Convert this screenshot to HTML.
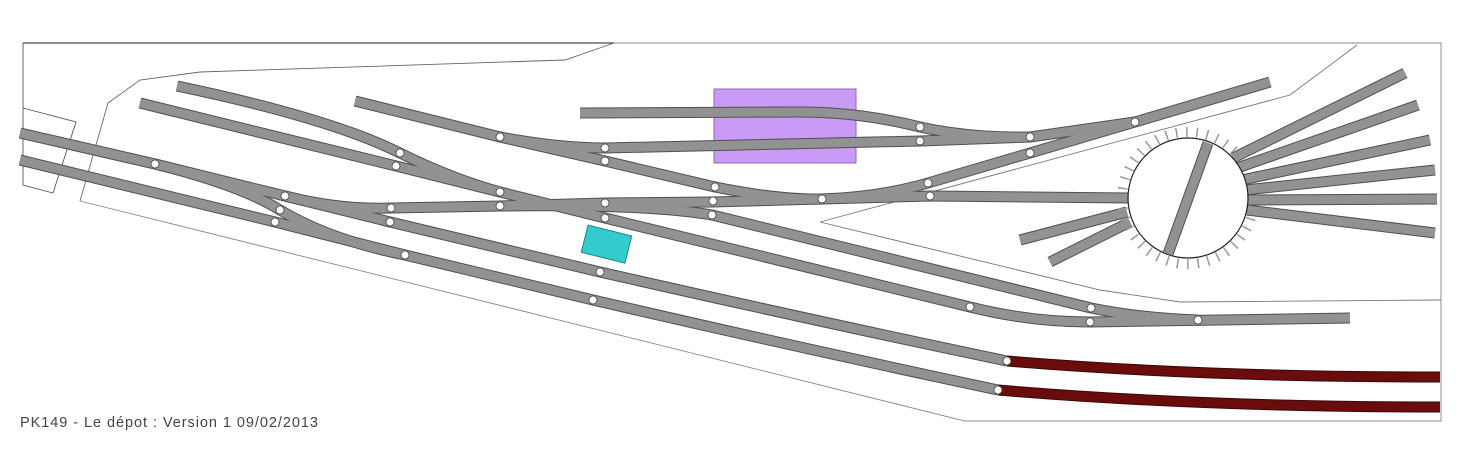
<!DOCTYPE html>
<html><head><meta charset="utf-8"><style>
html,body{margin:0;padding:0;background:#fff;width:1461px;height:466px;overflow:hidden}
</style></head><body>
<svg width="1461" height="466" viewBox="0 0 1461 466" xmlns="http://www.w3.org/2000/svg">
<defs>
<g id="tr">
<path d="M20,133 L155,164 L285,196 L390,222 L600,272 Q820,322 1007,361"/>
<path d="M20,160 L275,222 L405,255 L593,300 Q800,348 998,390"/>
<path d="M155,164 Q240,185 280,210 Q330,240 405,255"/>
<path d="M140,103 L396,166 L500,192 L605,218 L970,307 Q1030,322 1090,322 L1350,318"/>
<path d="M177,86 Q330,118 400,153 Q450,178 500,192"/>
<path d="M285,196 Q340,210 391,208 L500,206 L605,203 L712,202 L822,199 L930,196 L1130,198"/>
<path d="M500,206 Q650,204 712,215 L1091,308 Q1140,318 1198,320"/>
<path d="M355,101 L500,137 L605,161 L715,187 Q780,200 822,199 Q880,197 928,183 L1030,153 L1135,122 L1270,82"/>
<path d="M500,137 Q560,148 605,148 L920,141 L1030,137 L1135,122"/>
<path d="M580,113 L800,112 Q860,112 920,127 Q970,138 1030,137"/>
<path d="M1233,158 L1405,73"/><path d="M1237,168 L1418,105"/><path d="M1242,180 L1430,140"/>
<path d="M1245,190 L1435,170"/><path d="M1247,200 L1437,199"/><path d="M1247,210 L1435,233"/>
<path d="M1020,240 L1127,212"/><path d="M1050,262 L1130,222"/>
</g>
</defs>
<g fill="none" stroke-width="0.9">
<path d="M23,43 L614,43" stroke="#222"/>
<path d="M614,43 L1441,43 L1441,421 L965,421 L80,201" stroke="#888"/>
<path d="M23,43 L23,185 L53,193 L76,122 L23,108" stroke="#555"/>
<path d="M614,43 L565,60 L200,72 L140,80 L108,103 L80,201" stroke="#666"/>
<path d="M1357,45 L1290,95 L820,222 L1100,290 L1180,302 L1441,300" stroke="#777"/>
</g>
<rect x="714" y="89" width="142" height="74" fill="#c99bf7" stroke="#8a6aa8" stroke-width="1"/>
<rect x="584" y="230" width="45" height="28" fill="#33cccc" stroke="#1a8888" stroke-width="1" transform="rotate(14 606 244)"/>
<g fill="none" stroke-linejoin="round">
<use href="#tr" stroke="#505050" stroke-width="11"/>
<use href="#tr" stroke="#929292" stroke-width="9"/>
<path d="M1007,361 Q1200,377 1440,377" stroke="#3a0606" stroke-width="11"/>
<path d="M1007,361 Q1200,377 1440,377" stroke="#6b0c0c" stroke-width="9"/>
<path d="M998,390 Q1200,407 1440,407" stroke="#3a0606" stroke-width="11"/>
<path d="M998,390 Q1200,407 1440,407" stroke="#6b0c0c" stroke-width="9"/>
</g>
<circle cx="1188" cy="198" r="66" fill="none" stroke="#999" stroke-width="10" stroke-dasharray="1.5 8.8"/>
<circle cx="1188" cy="198" r="60" fill="#fff" stroke="#222" stroke-width="1.2"/>
<path d="M1208,143 L1168,254" stroke="#505050" stroke-width="11"/>
<path d="M1208,143 L1168,254" stroke="#929292" stroke-width="9"/>
<g fill="#fff" stroke="#444" stroke-width="0.8">
<circle cx="155" cy="164" r="4"/><circle cx="285" cy="196" r="4"/><circle cx="280" cy="210" r="4"/>
<circle cx="275" cy="222" r="4"/><circle cx="391" cy="208" r="4"/><circle cx="390" cy="222" r="4"/>
<circle cx="405" cy="255" r="4"/><circle cx="396" cy="166" r="4"/><circle cx="400" cy="153" r="4"/>
<circle cx="500" cy="137" r="4"/><circle cx="500" cy="192" r="4"/><circle cx="500" cy="206" r="4"/>
<circle cx="605" cy="148" r="4"/><circle cx="605" cy="161" r="4"/><circle cx="605" cy="203" r="4"/>
<circle cx="605" cy="218" r="4"/><circle cx="715" cy="187" r="4"/><circle cx="713" cy="201" r="4"/>
<circle cx="712" cy="215" r="4"/><circle cx="822" cy="199" r="4"/><circle cx="928" cy="183" r="4"/>
<circle cx="930" cy="196" r="4"/><circle cx="920" cy="127" r="4"/><circle cx="920" cy="141" r="4"/>
<circle cx="1030" cy="137" r="4"/><circle cx="1030" cy="153" r="4"/><circle cx="1135" cy="122" r="4"/>
<circle cx="600" cy="272" r="4"/><circle cx="593" cy="300" r="4"/><circle cx="970" cy="307" r="4"/>
<circle cx="1091" cy="308" r="4"/><circle cx="1090" cy="322" r="4"/><circle cx="1198" cy="320" r="4"/>
<circle cx="1007" cy="361" r="4"/><circle cx="998" cy="390" r="4"/>
</g>
<text x="20" y="427" font-family="Liberation Sans, sans-serif" font-size="14.5" fill="#444" textLength="298">PK149 - Le dépot : Version 1 09/02/2013</text>
</svg>
</body></html>
